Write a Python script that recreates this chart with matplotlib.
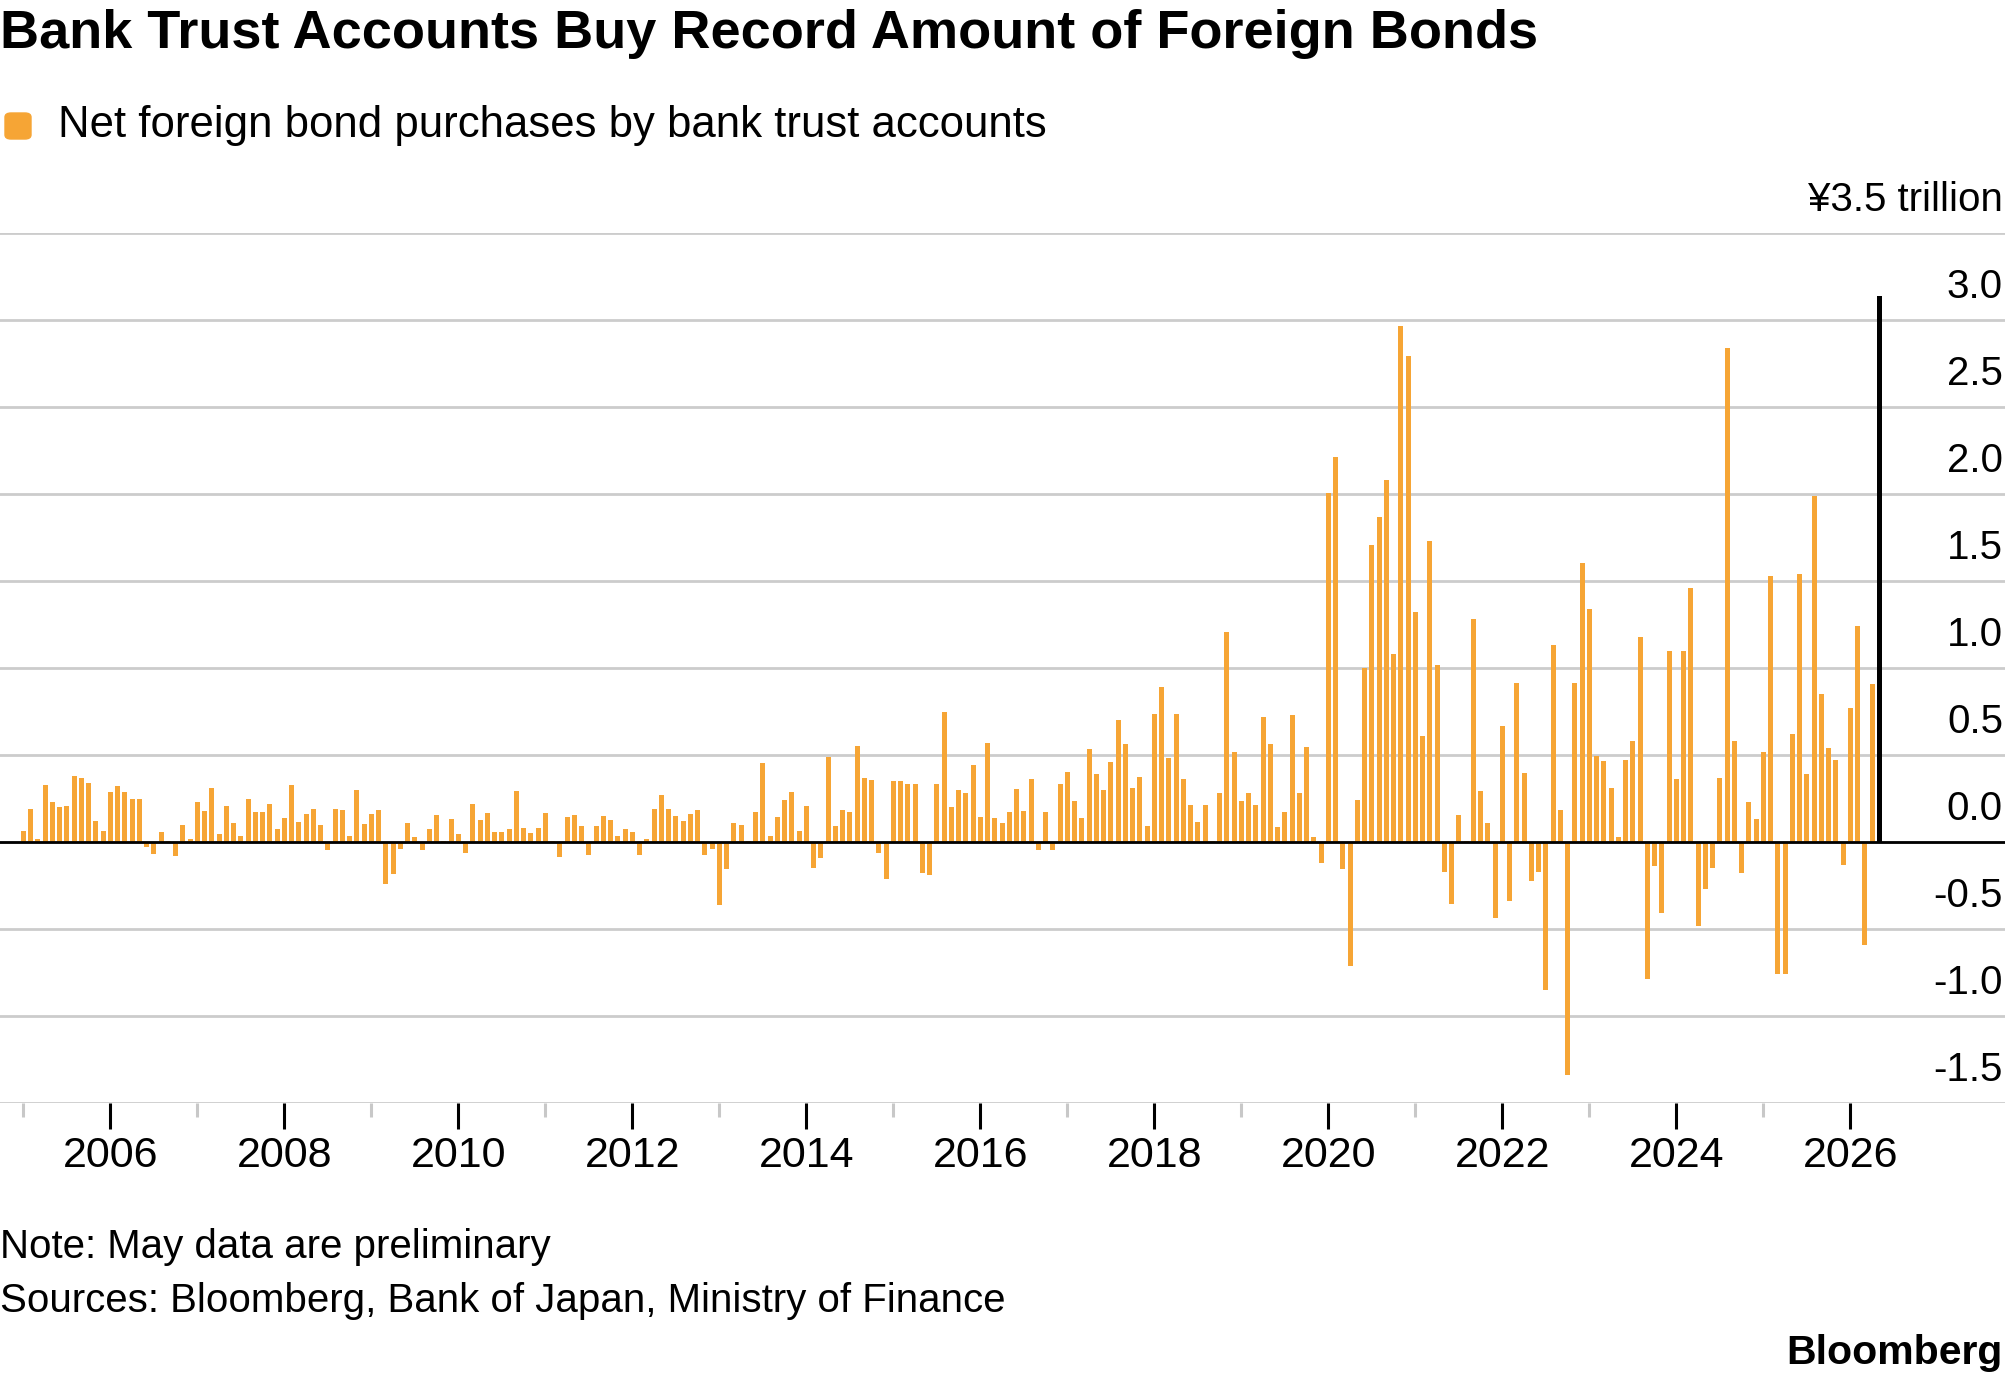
import numpy as np
import matplotlib.pyplot as plt
import matplotlib.transforms as mtransforms
from matplotlib.patches import FancyBboxPatch

# monthly net foreign bond purchases by bank trust accounts, trillion yen
start_year = 2005
net_purchases = [
    0.065, 0.19, 0.02, 0.33, 0.23, 0.20, 0.205, 0.38, 0.37, 0.34, 0.12, 0.063,      # 2005
    0.29, 0.32, 0.29, 0.25, 0.25, -0.03, -0.07, 0.06, 0.005, -0.08, 0.10, 0.015,    # 2006
    0.23, 0.18, 0.31, 0.045, 0.205, 0.11, 0.035, 0.25, 0.175, 0.175, 0.22, 0.075,   # 2007
    0.14, 0.33, 0.115, 0.16, 0.19, 0.10, -0.045, 0.19, 0.185, 0.035, 0.30, 0.105,   # 2008
    0.16, 0.185, -0.24, -0.185, -0.04, 0.107, 0.027, -0.045, 0.073, 0.155, 0.005, 0.13,  # 2009
    0.046, -0.063, 0.22, 0.125, 0.167, 0.056, 0.06, 0.075, 0.293, 0.08, 0.05, 0.082,    # 2010
    0.165, 0.005, -0.084, 0.144, 0.153, 0.094, -0.077, 0.092, 0.15, 0.128, 0.034, 0.073,  # 2011
    0.056, -0.073, 0.02, 0.19, 0.27, 0.19, 0.15, 0.12, 0.16, 0.186, -0.073, -0.042,    # 2012
    -0.36, -0.154, 0.11, 0.10, 0.005, 0.175, 0.456, 0.033, 0.146, 0.24, 0.29, 0.063,   # 2013
    0.206, -0.152, -0.092, 0.49, 0.092, 0.185, 0.171, 0.55, 0.365, 0.356, -0.063, -0.21,  # 2014
    0.348, 0.348, 0.333, 0.333, -0.18, -0.19, 0.333, 0.748, 0.204, 0.296, 0.28, 0.442,  # 2015
    0.144, 0.57, 0.14, 0.11, 0.175, 0.306, 0.177, 0.36, -0.045, 0.175, -0.048, 0.336,  # 2016
    0.40, 0.235, 0.14, 0.535, 0.39, 0.298, 0.458, 0.704, 0.563, 0.308, 0.371, 0.09,    # 2017
    0.733, 0.89, 0.48, 0.735, 0.363, 0.21, 0.117, 0.215, 0.005, 0.283, 1.206, 0.515,   # 2018
    0.233, 0.28, 0.21, 0.717, 0.563, 0.085, 0.173, 0.729, 0.28, 0.546, 0.03, -0.12,    # 2019
    2.007, 2.21, -0.157, -0.71, 0.242, 0.998, 1.705, 1.87, 2.08, 1.082, 2.966, 2.794,  # 2020
    1.32, 0.608, 1.729, 1.015, -0.17, -0.358, 0.155, 0.005, 1.283, 0.293, 0.109, -0.436,  # 2021
    0.665, -0.337, 0.915, 0.396, -0.222, -0.174, -0.851, 1.131, 0.182, -1.341, 0.911, 1.604,  # 2022
    1.339, 0.495, 0.463, 0.309, 0.03, 0.47, 0.58, 1.18, -0.79, -0.14, -0.41, 1.10,     # 2023
    0.36, 1.10, 1.46, -0.48, -0.27, -0.15, 0.37, 2.84, 0.58, -0.18, 0.23, 0.13,       # 2024
    0.52, 1.53, -0.76, -0.76, 0.62, 1.54, 0.39, 1.99, 0.85, 0.54, 0.47, -0.13,        # 2025
    0.77, 1.24, -0.59, 0.91,                                                         # 2026 Jan-Apr
]
preliminary_value = 3.14   # May 2026, preliminary

y_ticks = [-1.5, -1.0, -0.5, 0.0, 0.5, 1.0, 1.5, 2.0, 2.5, 3.0, 3.5]
y_labels = ['-1.5', '-1.0', '-0.5', '0.0', '0.5', '1.0', '1.5', '2.0', '2.5', '3.0', '¥3.5 trillion']
label_years = list(range(2006, 2027, 2))
minor_years = list(range(2005, 2027, 2))

ORANGE = '#F6A535'
GRID = '#cccccc'
plt.rcParams['font.family'] = ['Liberation Sans', 'DejaVu Sans']

W, H = 2005, 1383
fig = plt.figure(figsize=(W / 100, H / 100), dpi=100)

def fy(px):
    return 1 - px / H

# plot area: 3.5 line at y=233px, -1.5 line at y=1103px
ax = fig.add_axes([0, fy(1103), 1, (1103 - 233) / H])

x = start_year + np.arange(len(net_purchases)) / 12
x_prelim = start_year + len(net_purchases) / 12
bar_w = 0.058

for v in y_ticks:
    ax.axhline(v, color=GRID, lw=2.0, zorder=0)

ax.bar(x, net_purchases, width=bar_w, color=ORANGE, zorder=2)
ax.bar([x_prelim], [preliminary_value], width=bar_w, color='black', zorder=2)
ax.axhline(0, color='black', lw=2.0, zorder=3)

ax.set_xlim(2004.732, 2027.778)
ax.set_ylim(-1.5, 3.5)
for s in ax.spines.values():
    s.set_visible(False)
ax.set_yticks([])

ax.set_xticks(label_years)
ax.set_xticklabels([str(y) for y in label_years])
ax.set_xticks(minor_years, minor=True)
ax.tick_params(axis='x', which='major', length=19, width=2.2, color='black',
               labelsize=31, pad=5, labelcolor='black')
ax.tick_params(axis='x', which='minor', length=10, width=2.2, color='#c8c8c8')

offset = mtransforms.offset_copy(ax.get_yaxis_transform(), fig=fig, x=0, y=33, units='dots')
for v, lab in zip(y_ticks, y_labels):
    ax.text(0.999, v, lab, transform=offset, ha='right', va='center', fontsize=29, color='black')

fig.text(0.0, fy(34), 'Bank Trust Accounts Buy Record Amount of Foreign Bonds',
         fontsize=39, fontweight='bold', ha='left', va='center')

fig.patches.append(FancyBboxPatch((5 / W, fy(139)), 26 / W, 26 / H,
                                  boxstyle='round,pad=0,rounding_size=0.003',
                                  transform=fig.transFigure, color=ORANGE))
fig.text(58 / W, fy(126), 'Net foreign bond purchases by bank trust accounts',
         fontsize=31.5, ha='left', va='center')

fig.text(0.0, fy(1247), 'Note: May data are preliminary', fontsize=29, ha='left', va='center')
fig.text(0.0, fy(1301), 'Sources: Bloomberg, Bank of Japan, Ministry of Finance',
         fontsize=29, ha='left', va='center')
fig.text(0.999, fy(1353), 'Bloomberg', fontsize=29.5, fontweight='bold', ha='right', va='center')

fig.savefig('out.png', dpi=100)
